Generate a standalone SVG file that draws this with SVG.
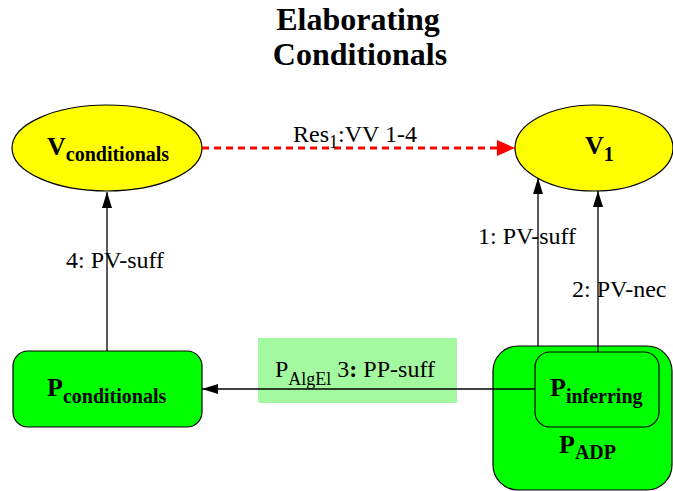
<svg xmlns="http://www.w3.org/2000/svg" width="673" height="491" viewBox="0 0 673 491" font-family="'Liberation Serif', 'Times New Roman', 'DejaVu Serif', serif">
<defs>
<style>
text{font-family:'Liberation Serif','Times New Roman','DejaVu Serif',serif;fill:#000}
.title{font-size:32px;font-weight:bold;text-anchor:middle}
.lbl{font-size:24px}
.nm{font-size:26px;font-weight:bold}
.sub{font-size:20px;font-weight:bold}
.ell{fill:#ffff00;stroke:#000;stroke-width:1.2}
.box{fill:#00ff00;stroke:#000;stroke-width:1.2}
.edge{stroke:#000;stroke-width:1.3;fill:none}
</style>
<marker id="ah" viewBox="0 0 16 10" refX="16" refY="5" markerWidth="16" markerHeight="10" markerUnits="userSpaceOnUse" orient="auto">
<path d="M0,0 L16,5 L0,10 Z" fill="#000"/>
</marker>
<marker id="ahr" viewBox="0 0 18 16" refX="18" refY="8" markerWidth="18" markerHeight="16" markerUnits="userSpaceOnUse" orient="auto">
<path d="M0,0 L18,8 L0,16 Z" fill="#ff0000"/>
</marker>
</defs>
<rect width="673" height="491" fill="#fff"/>
<g id="title">
<text class="title" x="358" y="30">Elaborating</text>
<text class="title" x="360" y="65">Conditionals</text>
</g>
<g id="n-vcond">
<ellipse class="ell" cx="107" cy="148" rx="95" ry="43"/>
<text x="47" y="155"><tspan class="nm">V</tspan><tspan class="sub" dy="6">conditionals</tspan></text>
</g>
<g id="n-v1">
<ellipse class="ell" cx="594" cy="148" rx="79" ry="43"/>
<text x="585" y="154"><tspan class="nm">V</tspan><tspan class="sub" dy="7">1</tspan></text>
</g>
<g id="n-pcond">
<rect class="box" x="13" y="351" width="189" height="76" rx="15"/>
<text x="47" y="396"><tspan class="nm">P</tspan><tspan class="sub" dy="7">conditionals</tspan></text>
</g>
<g id="n-padp">
<rect class="box" x="493" y="346" width="179" height="144" rx="25"/>
<text x="559" y="453"><tspan class="nm">P</tspan><tspan class="sub" dy="6">ADP</tspan></text>
</g>
<g id="n-pinf">
<rect class="box" x="535" y="352" width="124" height="75" rx="15"/>
<text x="550" y="396"><tspan class="nm">P</tspan><tspan class="sub" dy="7">inferring</tspan></text>
</g>
<g id="label-box">
<rect x="258" y="338" width="199" height="65" fill="#a2f9a0"/>
<text class="lbl" x="275" y="377">P<tspan font-size="18" dy="8">AlgEl</tspan><tspan dy="-8"> 3</tspan><tspan font-weight="bold">:</tspan> PP-suff</text>
</g>
<g id="connectors">
<line x1="202" y1="148" x2="515" y2="148" stroke="#ff0000" stroke-width="3" stroke-dasharray="7,5" marker-end="url(#ahr)"/>
<line class="edge" x1="107" y1="351" x2="107" y2="192" marker-end="url(#ah)"/>
<line class="edge" x1="538" y1="346" x2="538" y2="178" marker-end="url(#ah)"/>
<line class="edge" x1="598" y1="352" x2="598" y2="191" marker-end="url(#ah)"/>
<line class="edge" x1="535" y1="389" x2="202" y2="389" marker-end="url(#ah)"/>
</g>
<g id="edge-labels">
<text class="lbl" x="293" y="142">Res<tspan font-size="18" dy="6">1</tspan><tspan dy="-6">:VV 1-4</tspan></text>
<text class="lbl" x="66" y="268">4: PV-suff</text>
<text class="lbl" x="478" y="244">1: PV-suff</text>
<text class="lbl" x="572" y="297">2: PV-nec</text>
</g>
</svg>
